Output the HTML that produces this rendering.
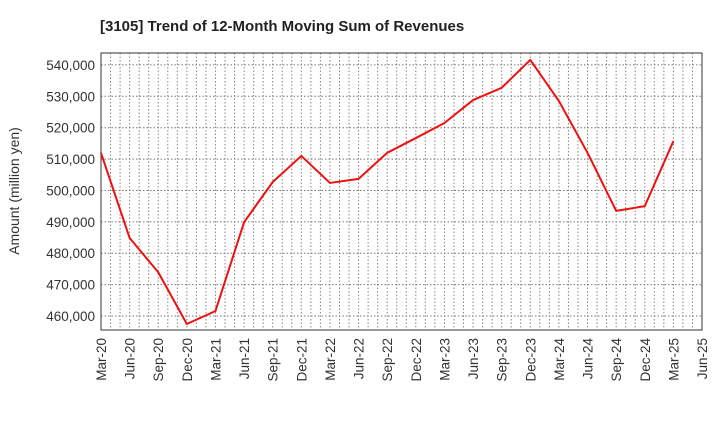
<!DOCTYPE html>
<html><head><meta charset="utf-8"><style>
body{margin:0;background:#fff;}
svg{display:block;font-family:"Liberation Sans",sans-serif;}
</style></head><body>
<svg id="chart" width="720" height="440">
<text x="100" y="31" font-size="15" font-weight="bold" fill="#222">[3105]  Trend of 12-Month Moving Sum of Revenues</text>
<text transform="translate(19,191) rotate(-90)" text-anchor="middle" font-size="14" fill="#333">Amount (million yen)</text>
<g id="grid"></g><g id="axes"></g><g id="series"></g>
</svg>
<script>
const categories=["Mar-20","Jun-20","Sep-20","Dec-20","Mar-21","Jun-21","Sep-21","Dec-21","Mar-22","Jun-22","Sep-22","Dec-22","Mar-23","Jun-23","Sep-23","Dec-23","Mar-24","Jun-24","Sep-24","Dec-24","Mar-25","Jun-25"];
const revenues=[511950,484860,473950,457450,461600,489900,502700,511000,502400,503700,512000,516700,521500,528800,532700,541600,528500,512000,493500,495000,515700];
const yTicks=[460000,470000,480000,490000,500000,510000,520000,530000,540000];
const L=101,R=702,T=53,B=330,yMin=455540,yMax=543800;
const ns="http://www.w3.org/2000/svg";
function xS(i){return L+(R-L)*i/(categories.length-1);}
function yS(v){return B-(v-yMin)/(yMax-yMin)*(B-T);}
const grid=document.getElementById('grid'),axes=document.getElementById('axes'),series=document.getElementById('series');
function mk(tag,attrs,parent){const e=document.createElementNS(ns,tag);for(const k in attrs)e.setAttribute(k,attrs[k]);parent.appendChild(e);return e;}
for(let m=1;m<(categories.length-1)*3;m++){
  const x=L+(R-L)*m/((categories.length-1)*3);
  const g=mk('line',{x1:x,x2:x,y1:T,y2:B,stroke:'#888','stroke-width':1,'stroke-dasharray':'1.5,2'},grid);
  
  
}
yTicks.forEach(v=>{
  const y=yS(v);
  const g=mk('line',{x1:L,x2:R,y1:y,y2:y,stroke:'#777','stroke-width':1,'stroke-dasharray':'1.5,2'},grid);
  
  
  const t=mk('text',{x:L-6,y:y+5,'text-anchor':'end','font-size':13.5,fill:'#333'},axes);
  t.textContent=v.toLocaleString('en-US');
  
  
});
categories.forEach((c,i)=>{
  const x=xS(i);
  const t=mk('text',{transform:`translate(${x+5},338) rotate(-90)`,'text-anchor':'end','font-size':13.5,fill:'#333'},axes);
  t.textContent=c;
  
  
});
const frame=mk('rect',{x:L,y:T,width:R-L,height:B-T,fill:'none',stroke:'#333','stroke-width':1},axes);


const pts=revenues.map((v,i)=>xS(i)+','+yS(v)).join(' ');
const line=mk('polyline',{points:pts,fill:'none',stroke:'#ee1111','stroke-width':2,'stroke-linejoin':'round'},series);


</script>
</body></html>
